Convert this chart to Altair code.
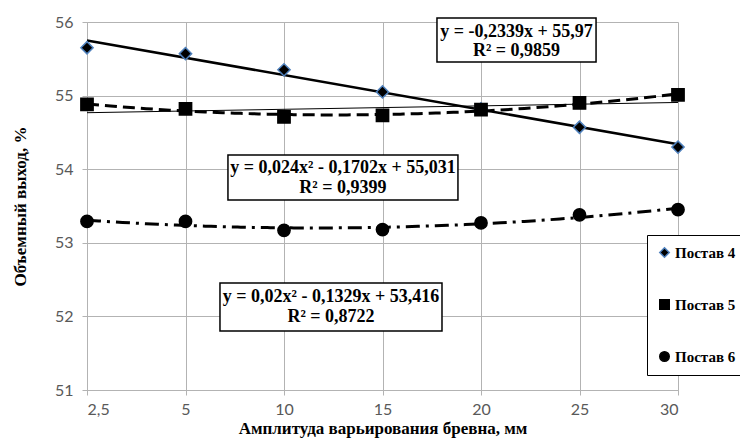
import altair as alt
import pandas as pd

# ---- data ----
x_labels = ["2,5", "5", "10", "15", "20", "25", "30"]
x_index = [1, 2, 3, 4, 5, 6, 7]
series_names = ["Постав 4", "Постав 5", "Постав 6"]
postav4 = [55.65, 55.57, 55.35, 55.05, 54.82, 54.57, 54.30]
postav5 = [54.88, 54.82, 54.71, 54.73, 54.81, 54.90, 55.01]
postav6 = [53.29, 53.29, 53.17, 53.18, 53.27, 53.38, 53.45]

# equation boxes (text lines, box extent in data units)
eq_text = [
    ["y = -0,2339x + 55,97", "R² = 0,9859"],
    ["y = 0,024x² - 0,1702x + 55,031", "R² = 0,9399"],
    ["y = 0,02x² - 0,1329x + 53,416", "R² = 0,8722"],
]
eq_box_x = [(4.553, 6.168), (2.431, 4.766), (2.350, 4.604)]
eq_box_y = [(56.054, 55.457), (54.193, 53.582), (52.454, 51.802)]
eq_line_y = [(55.864, 55.606), (54.016, 53.745), (52.264, 51.992)]

rows = []
for name, vals in zip(series_names, [postav4, postav5, postav6]):
    for i, v in zip(x_index, vals):
        rows.append({"idx": i, "value": v, "series": name})
df = pd.DataFrame(rows)

box_df = pd.DataFrame([
    {"x1": bx[0], "x2": bx[1], "y1": by[0], "y2": by[1]}
    for bx, by in zip(eq_box_x, eq_box_y)
])
txt_rows = []
for lines, bx, ly in zip(eq_text, eq_box_x, eq_line_y):
    for t, yy in zip(lines, ly):
        txt_rows.append({"x": (bx[0] + bx[1]) / 2, "y": yy, "t": t})
txt_df = pd.DataFrame(txt_rows)

label_expr = "[" + ",".join("'" + s + "'" for s in x_labels) + "][datum.value - 1]"

grid_col = "#B3B3B3"
serif = "Times New Roman, Liberation Serif, DejaVu Serif, serif"

x_enc = alt.X(
    "idx:Q",
    scale=alt.Scale(domain=[1, 7], nice=False, zero=False),
    axis=alt.Axis(
        values=x_index, labelExpr=label_expr,
        title="Амплитуда варьирования бревна, мм",
        titleFont=serif, titleFontSize=17, titleFontWeight="bold", titleColor="black",
        titlePadding=3,
        labelFont="Lato", labelFontSize=16, labelColor="#595959", labelPadding=6,
        tickSize=5, tickColor=grid_col, domainColor=grid_col,
        grid=True, gridColor=grid_col,
    ),
)
y_enc = alt.Y(
    "value:Q",
    scale=alt.Scale(domain=[51, 56], nice=False, zero=False),
    axis=alt.Axis(
        values=[51, 52, 53, 54, 55, 56], format="d",
        title="Объемный выход, %",
        titleFont=serif, titleFontSize=17, titleFontWeight="bold", titleColor="black",
        titlePadding=25,
        labelFont="Lato", labelFontSize=16, labelColor="#595959", labelPadding=9,
        tickSize=5, tickColor=grid_col, domainColor=grid_col,
        grid=True, gridColor=grid_col,
    ),
)

base = alt.Chart(df)

trend4 = base.transform_filter(alt.datum.series == "Постав 4").transform_regression(
    "idx", "value", method="linear"
).mark_line(color="black", strokeWidth=2.5).encode(x=x_enc, y=y_enc)

trend5lin = base.transform_filter(alt.datum.series == "Постав 5").transform_regression(
    "idx", "value", method="linear"
).mark_line(color="black", strokeWidth=1).encode(x=x_enc, y=y_enc)

trend5 = base.transform_filter(alt.datum.series == "Постав 5").transform_regression(
    "idx", "value", method="poly", order=2
).mark_line(color="black", strokeWidth=3, strokeDash=[12, 6]).encode(x=x_enc, y=y_enc)

trend6 = base.transform_filter(alt.datum.series == "Постав 6").transform_regression(
    "idx", "value", method="poly", order=2
).mark_line(color="black", strokeWidth=3, strokeDash=[14, 6, 3, 6]).encode(x=x_enc, y=y_enc)

legend = alt.Legend(
    orient="none", legendX=560, legendY=213, title=None,
    fillColor="white", strokeColor="black", padding=10, rowPadding=35,
    symbolSize=90, labelFont=serif, labelFontSize=15, labelFontWeight="bold",
    labelColor="black", labelOffset=3,
)
pts = base.mark_point(filled=True, size=150, strokeWidth=1.5, opacity=1).encode(
    x=x_enc, y=y_enc,
    shape=alt.Shape("series:N", scale=alt.Scale(domain=series_names, range=["diamond", "square", "circle"]), legend=legend),
    fill=alt.Fill("series:N", scale=alt.Scale(domain=series_names, range=["black", "black", "black"]), legend=legend),
    stroke=alt.Stroke("series:N", scale=alt.Scale(domain=series_names, range=["#4F81BD", "black", "black"]), legend=legend),
)

boxes = alt.Chart(box_df).mark_rect(fill="white", stroke="black", strokeWidth=1.5).encode(
    x="x1:Q", x2="x2:Q", y="y1:Q", y2="y2:Q"
)
texts = alt.Chart(txt_df).mark_text(
    font=serif, fontSize=18, fontWeight="bold", color="black"
).encode(x="x:Q", y="y:Q", text="t:N")

chart = alt.layer(trend5lin, trend4, trend5, trend6, pts, boxes, texts).properties(
    width=591, height=368,
    autosize=alt.AutoSizeParams(type="none"),
    padding={"left": 79, "top": 14, "right": 62, "bottom": 48},
).configure_view(stroke=None)

chart.save("out.html", embed_options={"renderer": "svg", "actions": False})
